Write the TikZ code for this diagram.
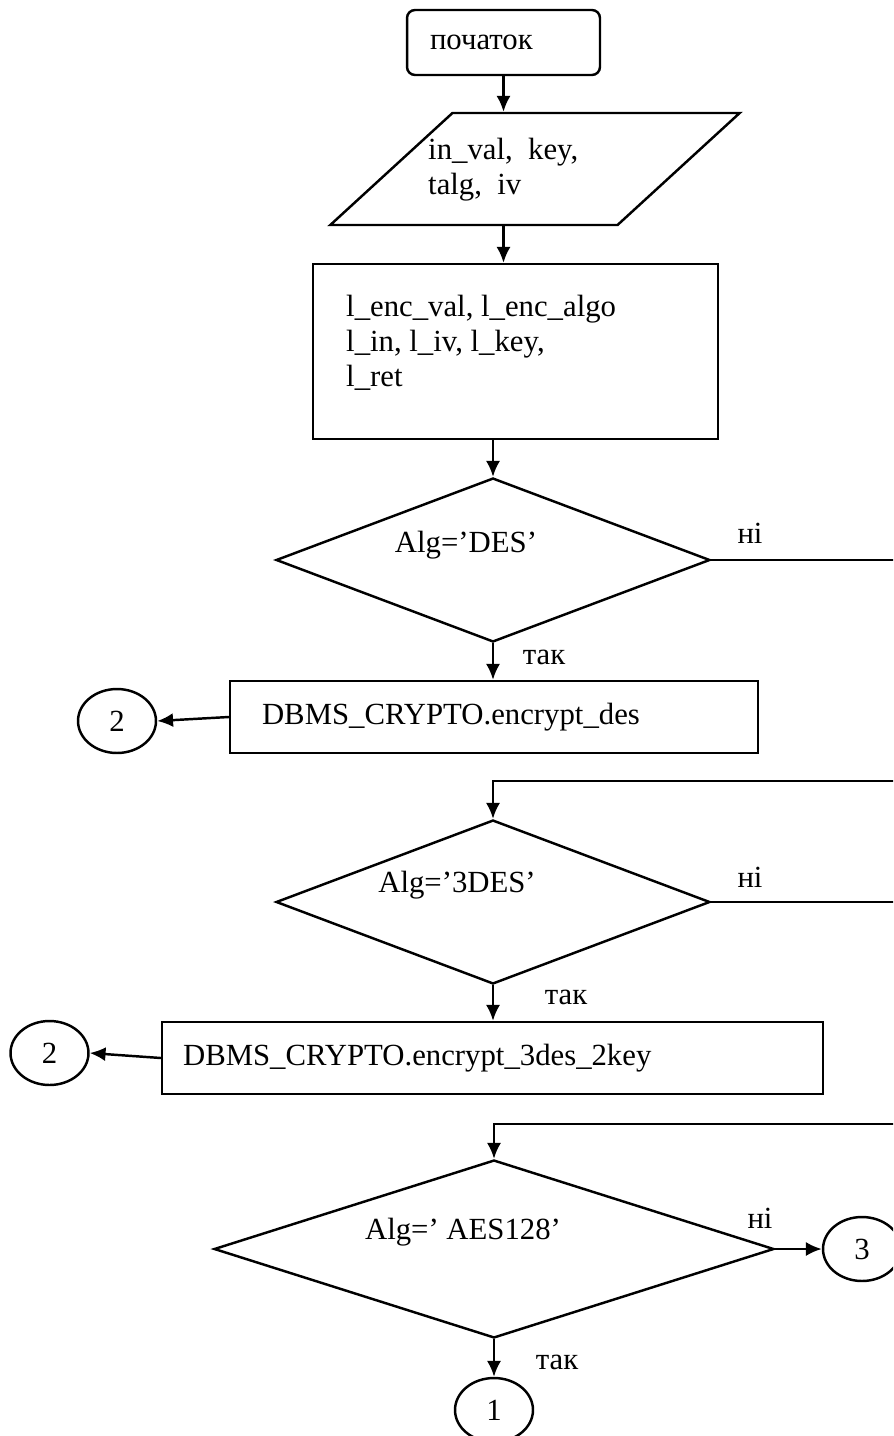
\documentclass[tikz,border=0pt]{standalone}
\usepackage{fontspec}
\setmainfont{Liberation Serif}
\usetikzlibrary{shapes.geometric,arrows.meta}

\begin{document}
\begin{tikzpicture}[>={Latex[length=9pt,width=8pt]}, x=0.02cm, y=-0.02cm, line width=1.4pt,
    font=\fontsize{17.5}{20}\selectfont,
    blk/.style={draw, rectangle, align=left, inner xsep=0.64cm, inner ysep=0pt},
    dec/.style={draw, diamond, inner sep=0pt},
    conn/.style={draw, ellipse, minimum width=1.56cm, minimum height=1.28cm, inner sep=0pt},
    txt/.style={inner sep=0pt}]
  \clip (0,0) rectangle (893,1436);
  % start and input
  \node[blk, rounded corners=0.16cm, inner xsep=0.46cm, text width=2.94cm,
        minimum width=3.86cm, minimum height=1.3cm] (start) at (503.5,42.5) {початок};
  \node[draw, trapezium, trapezium left angle=53.5, trapezium right angle=126.5,
        trapezium stretches=true, minimum width=8.2cm, minimum height=2.24cm] (inp) at (535,169) {};
  \node[txt, anchor=west, align=left] (inptxt) at (427,170) {in\_val,\ \ key,\\talg,\ \ iv};
  \node[blk, minimum width=8.1cm, minimum height=3.5cm] (vars) at (515.5,351.5) {};
  \node[txt, anchor=west, align=left] (varstxt) at (345,343)
        {l\_enc\_val, l\_enc\_algo\\l\_in, l\_iv, l\_key,\\l\_ret};
  % DES
  \node[dec, minimum width=8.68cm, minimum height=3.28cm] (d1) at (493,560) {};
  \node[txt] (d1txt) at (466,545) {Alg='DES'};
  \node[txt] (no1) at (750,533) {ні};
  \node[txt] (yes1) at (544,657) {так};
  \node[blk, text width=9.28cm, minimum width=10.56cm, minimum height=1.44cm] (des) at (494,717)
        {DBMS\_CRYPTO.encrypt\_des};
  \node[conn] (c2a) at (117,721) {2};
  % 3DES
  \node[dec, minimum width=8.68cm, minimum height=3.28cm] (d2) at (493,902) {};
  \node[txt] (d2txt) at (457,885) {Alg='3DES'};
  \node[txt] (no2) at (750,877) {ні};
  \node[txt] (yes2) at (566,997) {так};
  \node[blk, inner xsep=0.42cm, text width=12.38cm, minimum width=13.22cm, minimum height=1.44cm]
        (des3) at (492.5,1058) {DBMS\_CRYPTO.encrypt\_3des\_2key};
  \node[conn] (c2b) at (49.5,1053) {2};
  % AES128
  \node[dec, minimum width=11.2cm, minimum height=3.56cm] (d3) at (494,1249) {};
  \node[txt] (d3txt) at (463,1232) {Alg=' AES128'};
  \node[txt] (no3) at (760,1218) {ні};
  \node[txt] (yes3) at (557,1362) {так};
  \node[conn] (c3) at (862,1249) {3};
  \node[conn] (c1) at (494,1410) {1};
  % loop-back corners
  \coordinate (r1) at (920,560);
  \coordinate (l2) at (493,781);
  \coordinate (r2) at (920,902);
  \coordinate (l3) at (494,1124);
  % connectors
  \draw[->] (start.south) -- (start.south |- inp.north);
  \draw[->] (start.south |- inp.south) -- (start.south |- vars.north);
  \draw[->] (d1.north |- vars.south) -- (d1.north);
  \draw[->] (d1.south) -- (d1.south |- des.north);
  \draw[->] (des.west) -- (c2a.east);
  \draw[->] (d1.east) -- (r1) |- (l2) -- (d2.north);
  \draw[->] (d2.south) -- (d2.south |- des3.north);
  \draw[->] (des3.west) -- (c2b.east);
  \draw[->] (d2.east) -- (r2) |- (l3) -- (d3.north);
  \draw[->] (d3.east) -- (c3.west);
  \draw[->] (d3.south) -- (c1.north);
\end{tikzpicture}
\end{document}
